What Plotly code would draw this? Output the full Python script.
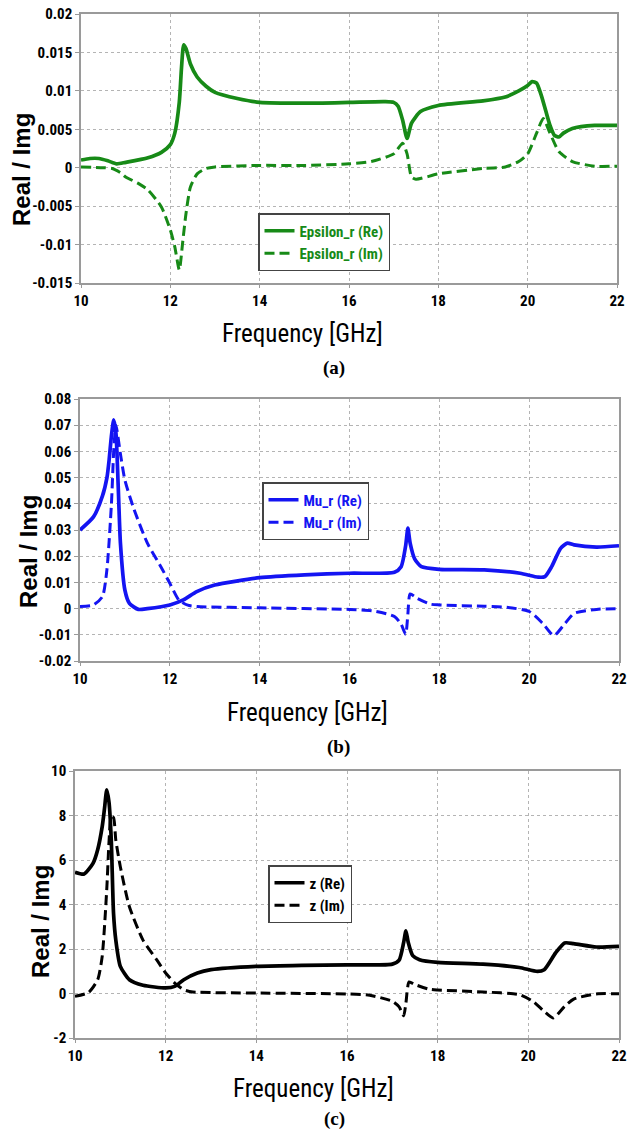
import plotly.graph_objects as go

# ---------------- data ----------------
freq_ticks = [10, 12, 14, 16, 18, 20, 22]
freq_tick_labels = ["10", "12", "14", "16", "18", "20", "22"]

eps_ticks = [0.02, 0.015, 0.01, 0.005, 0, -0.005, -0.01, -0.015]
eps_tick_labels = ["0.02", "0.015", "0.01", "0.005", "0", "-0.005", "-0.01", "-0.015"]
mu_ticks = [0.08, 0.07, 0.06, 0.05, 0.04, 0.03, 0.02, 0.01, 0, -0.01, -0.02]
mu_tick_labels = ["0.08", "0.07", "0.06", "0.05", "0.04", "0.03", "0.02", "0.01", "0", "-0.01", "-0.02"]
z_ticks = [10, 8, 6, 4, 2, 0, -2]
z_tick_labels = ["10", "8", "6", "4", "2", "0", "-2"]

eps_re_f = [10, 10.2, 10.4, 10.6, 10.8, 11.0, 11.5, 11.8, 12.0, 12.1, 12.2, 12.25, 12.3, 12.35,
            12.45, 12.6, 12.8, 13.0, 13.5, 14, 15, 16, 16.8, 17.0, 17.1, 17.2, 17.3, 17.4, 17.6,
            18.0, 19.0, 19.5, 19.8, 20.0, 20.1, 20.2, 20.3, 20.4, 20.5, 20.6, 20.7, 20.8, 21.0,
            21.5, 22]
eps_re = [0.001, 0.0012, 0.0012, 0.0009, 0.0005, 0.0007, 0.0013, 0.002, 0.003, 0.0045, 0.0085,
          0.013, 0.016, 0.0155, 0.0135, 0.0118, 0.0106, 0.0098, 0.009, 0.0085, 0.0084, 0.0085,
          0.0086, 0.0085, 0.008, 0.0062, 0.0038, 0.0058, 0.0073, 0.0081, 0.0087, 0.0092, 0.0100,
          0.0107, 0.0112, 0.0110, 0.0095, 0.0075, 0.0055, 0.0042, 0.0040, 0.0045, 0.0051,
          0.0055, 0.0055]

eps_im_f = [10, 10.5, 10.7, 10.9, 11.0, 11.3, 11.5, 11.8, 12.0, 12.1, 12.2, 12.28, 12.35,
            12.45, 12.6, 12.8, 13, 14, 15, 16, 16.5, 17, 17.2, 17.3, 17.4, 17.5, 18, 19, 19.5,
            19.8, 20, 20.2, 20.35, 20.5, 20.7, 21, 21.5, 22]
eps_im = [0.0001, 0, -0.0001, -0.0007, -0.0012, -0.0021, -0.0029, -0.0051, -0.0081, -0.0103,
          -0.0133, -0.0095, -0.006, -0.0025, -0.0008, -0.0001, 0.0001, 0.0003, 0.0003,
          0.0005, 0.0008, 0.0018, 0.0032, 0.0018, -0.0012, -0.0015, -0.0008, -0.0001, 0.0001,
          0.0008, 0.0018, 0.0045, 0.0064, 0.0045, 0.0021, 0.0008, 0.0002, 0.0002]

mu_re_f = [10, 10.3, 10.5, 10.6, 10.65, 10.7, 10.75, 10.8, 10.85, 10.9, 11.0, 11.1, 11.3, 11.5,
           12, 12.3, 12.6, 13, 14, 15, 16, 17, 17.15, 17.25, 17.3, 17.35, 17.45, 17.6, 18, 19,
           19.8, 20.2, 20.35, 20.5, 20.7, 20.85, 21, 21.5, 22]
mu_re = [0.030, 0.035, 0.043, 0.050, 0.057, 0.066, 0.072, 0.067, 0.047, 0.025, 0.007, 0.002,
         -0.0003, 0, 0.0014, 0.0033, 0.0065, 0.009, 0.0118, 0.0129, 0.0135, 0.0139, 0.016,
         0.024, 0.0307, 0.025, 0.019, 0.016, 0.015, 0.0148, 0.0135, 0.012, 0.0122, 0.016,
         0.023, 0.025, 0.0243, 0.0235, 0.024]

mu_im_f = [10, 10.3, 10.5, 10.6, 10.7, 10.75, 10.8, 10.9, 11.0, 11.2, 11.5, 11.8, 12, 12.2,
           12.4, 12.6, 14, 16, 16.5, 17, 17.15, 17.25, 17.3, 17.35, 17.5, 17.8, 18, 19, 19.5,
           20, 20.3, 20.55, 20.8, 21, 21.5, 22]
mu_im = [0.0008, 0.0014, 0.0046, 0.015, 0.040, 0.060, 0.070, 0.059, 0.049, 0.038, 0.025,
         0.016, 0.0097, 0.0033, 0.0013, 0.0008, 0.0003, -0.0003, -0.0008, -0.003, -0.006,
         -0.0098, -0.002, 0.0056, 0.004, 0.0017, 0.0014, 0.0009, 0.0005, -0.0011, -0.0056,
         -0.0103, -0.0056, -0.0018, -0.0003, 0]

z_re_f = [10, 10.2, 10.4, 10.5, 10.6, 10.65, 10.7, 10.75, 10.8, 10.85, 10.9, 11, 11.2, 11.5,
          12, 12.2, 12.4, 12.7, 13, 14, 15, 16, 17, 17.15, 17.25, 17.3, 17.35, 17.45, 17.6,
          18, 19, 19.8, 20.2, 20.35, 20.6, 20.8, 21, 21.5, 22]
z_re = [5.45, 5.37, 5.86, 6.46, 7.5, 8.3, 9.15, 8.6, 6.9, 3.6, 2.4, 1.22, 0.62, 0.37, 0.25,
        0.32, 0.62, 0.92, 1.07, 1.22, 1.26, 1.29, 1.32, 1.5, 2.3, 2.82, 2.3, 1.7, 1.52, 1.4,
        1.32, 1.17, 0.99, 1.07, 1.82, 2.27, 2.24, 2.09, 2.12]

z_im_f = [10, 10.3, 10.5, 10.6, 10.7, 10.75, 10.8, 10.85, 10.9, 11, 11.2, 11.5, 11.8, 12,
          12.2, 12.4, 12.6, 14, 16, 16.5, 17, 17.15, 17.25, 17.3, 17.37, 17.5, 17.8, 18, 19,
          19.8, 20.1, 20.35, 20.55, 20.8, 21, 21.5, 22]
z_im = [-0.13, 0.05, 0.62, 1.67, 4.66, 6.8, 7.95, 7.9, 6.9, 5.7, 3.9, 2.4, 1.52, 0.92, 0.47,
        0.17, 0.07, 0.02, -0.02, -0.08, -0.35, -0.6, -1.0, -0.42, 0.52, 0.4, 0.2, 0.16, 0.07,
        -0.05, -0.35, -0.8, -1.1, -0.58, -0.25, -0.02, -0.01]

series_names = ["Epsilon_r (Re)", "Epsilon_r (Im)", "Mu_r (Re)", "Mu_r (Im)", "z (Re)", "z (Im)"]
panel_labels = ["(a)", "(b)", "(c)"]
x_title = "Frequency [GHz]"
y_title = "Real / Img"

# ---------------- styling ----------------
W, H = 628, 1134
GREEN = "#178a17"
BLUE = "#1414f2"
BLACK = "#000000"
NARROW = "Roboto Condensed, DejaVu Sans Condensed, sans-serif"
DASH = "10px,5px"
GRID = "#b4b4b4"
FRAME = "#9a9a9a"


def px_x(p):
    return p / W


def px_y(p):
    return 1 - p / H


# panel geometry in pixels: (left, right, top, bottom)
panels = [(81, 617, 14, 283), (80, 619, 399, 661), (75, 619, 771, 1038)]

fig = go.Figure()

data = [
    (eps_re_f, eps_re, eps_im_f, eps_im, GREEN),
    (mu_re_f, mu_re, mu_im_f, mu_im, BLUE),
    (z_re_f, z_re, z_im_f, z_im, BLACK),
]
yticks = [(eps_ticks, eps_tick_labels, [-0.015, 0.02]),
          (mu_ticks, mu_tick_labels, [-0.02, 0.08]),
          (z_ticks, z_tick_labels, [-2, 10])]
legend_pos = [(258, 213), (262, 482), (268, 865)]

for i, (fr, vr, fi, vi, col) in enumerate(data):
    k = "" if i == 0 else str(i + 1)
    leg = "legend" if i == 0 else "legend" + str(i + 1)
    fig.add_trace(go.Scatter(x=fr, y=vr, mode="lines", name=series_names[2 * i],
                             line=dict(color=col, width=3.7, shape="spline", smoothing=0.6),
                             xaxis="x" + k, yaxis="y" + k, legend=leg))
    fig.add_trace(go.Scatter(x=fi, y=vi, mode="lines", name=series_names[2 * i + 1],
                             line=dict(color=col, width=3, dash=DASH, shape="spline",
                                       smoothing=0.6),
                             xaxis="x" + k, yaxis="y" + k, legend=leg))

layout = dict(width=W, height=H, margin=dict(l=0, r=0, t=0, b=0), template="none",
              paper_bgcolor="white", plot_bgcolor="white", showlegend=True,
              annotations=[])

tickfont = dict(family=NARROW, size=15, color="black", weight="bold")
for i, (l, r, t, b) in enumerate(panels):
    k = "" if i == 0 else str(i + 1)
    tv, tt, rng = yticks[i]
    common = dict(showgrid=True, gridcolor=GRID, griddash="dot", gridwidth=1,
                  showline=True, linecolor=FRAME, linewidth=1.5, mirror=True,
                  ticks="outside", tickcolor=FRAME, tickwidth=1,
                  tickfont=tickfont, zeroline=False, automargin=False)
    layout["xaxis" + k] = dict(domain=[px_x(l), px_x(r)], range=[10, 22], anchor="y" + k,
                               tickvals=freq_ticks, ticktext=freq_tick_labels, ticklen=3,
                               **common)
    layout["yaxis" + k] = dict(domain=[px_y(b), px_y(t)], range=rng, anchor="x" + k,
                               tickvals=tv, ticktext=tt, ticklen=4, **common)
    lx, ly = legend_pos[i]
    col = data[i][4]
    layout["legend" if i == 0 else "legend" + str(i + 1)] = dict(
        x=px_x(lx), y=px_y(ly), xanchor="left", yanchor="top",
        bgcolor="white", bordercolor="#444444", borderwidth=1.5,
        font=dict(family=NARROW, size=15, color=col, weight="bold"),
        itemwidth=30, tracegroupgap=0)

ytitle_pos = [(22, 170), (28, 551), (40, 922)]
xtitle_pos = [(302, 333), (307, 712), (313, 1088)]
plabel_pos = [(334, 368), (338, 747), (334, 1119)]
for i in range(3):
    yx, yy = ytitle_pos[i]
    layout["annotations"].append(dict(
        text=y_title, x=px_x(yx), y=px_y(yy), xref="paper", yref="paper",
        showarrow=False, textangle=-90, xanchor="center", yanchor="middle",
        font=dict(family="Liberation Sans, Arial, sans-serif", size=24, color="black",
                  weight="bold")))
    xx, xy = xtitle_pos[i]
    layout["annotations"].append(dict(
        text=x_title, x=px_x(xx), y=px_y(xy), xref="paper", yref="paper",
        showarrow=False, xanchor="center", yanchor="middle",
        font=dict(family=NARROW, size=25, color="black")))
    px_, py_ = plabel_pos[i]
    layout["annotations"].append(dict(
        text=panel_labels[i], x=px_x(px_), y=px_y(py_), xref="paper", yref="paper",
        showarrow=False, xanchor="center", yanchor="middle",
        font=dict(family="Liberation Serif, Times New Roman, serif", size=19, color="black",
                  weight="bold")))

fig.update_layout(**layout)
fig.write_html(
    "out.html",
    config={"displayModeBar": False},
    post_script=("document.body.style.margin='0';document.body.style.padding='0';"
                 "document.body.style.overflow='hidden';"
                 "document.documentElement.style.overflow='hidden';"),
)
